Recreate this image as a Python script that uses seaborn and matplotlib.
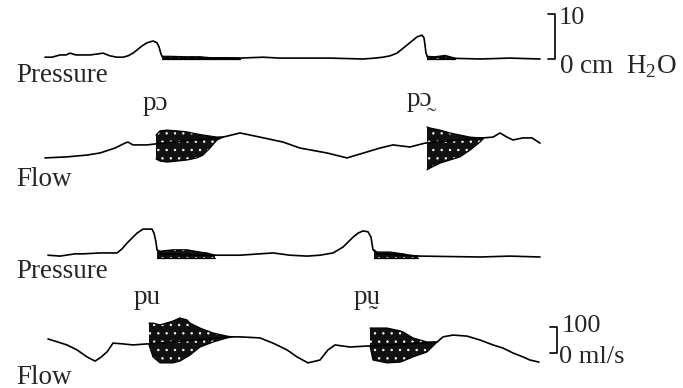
import numpy as np
import pandas as pd
import matplotlib
matplotlib.use("Agg")
import matplotlib.pyplot as plt
import seaborn as sns

sns.set_theme(style="white")
plt.rcParams['font.family'] = ['Liberation Serif', 'DejaVu Serif']
plt.rcParams['mathtext.fontset'] = 'custom'
plt.rcParams['mathtext.rm'] = 'Liberation Serif'
plt.rcParams['hatch.linewidth'] = 0.5

# --- traced values (time in samples, pressure in cm H2O, flow in ml/s) ---
p1_t = [45, 52, 60, 66, 70, 76, 83, 90, 97, 103, 110, 117, 123, 128, 133, 137, 142, 147, 153, 157,
        159, 161, 163, 200, 240, 263, 280, 307, 330, 363, 375, 383, 390, 397, 402, 407, 412, 417, 422, 424,
        425, 426, 428, 443, 445, 480, 510, 540]
p1 = [0.4, 0.4, 0.9, 0.9, 1.3, 0.9, 0.9, 0.9, 1.1, 1.3, 0.7, 0.4, 0.4, 0.7, 1.3, 2.0, 2.9, 3.6, 4.0, 3.6,
      2.7, 1.1, 0.2, 0.2, 0.2, 0.4, 0.2, 0.2, 0.2, 0.0, 0.2, 0.4, 0.7, 1.3, 2.2, 3.1, 4.0, 4.9, 5.3, 4.7,
      3.1, 1.3, 0.2, 0.4, 0.2, 0.0, 0.2, 0.0]

p2_t = [48, 60, 75, 83, 100, 117, 122, 127, 132, 137, 143, 150, 152, 154, 156, 157, 160, 200, 240, 273,
        290, 307, 320, 333, 343, 348, 353, 358, 363, 368, 371, 373, 377, 420, 480, 510, 540]
p2 = [0.4, 0.2, 0.7, 0.7, 0.9, 0.9, 1.8, 3.1, 4.2, 5.3, 6.2, 6.2, 6.2, 5.3, 3.3, 1.6, 0.7, 0.4, 0.4, 0.9,
      0.4, 0.2, 0.4, 0.9, 2.2, 3.3, 4.4, 5.3, 5.8, 5.6, 4.4, 1.6, 0.7, 0.2, 0.0, 0.2, 0.0]

# voicing ripple on the pressure traces (upper / lower envelope)
p1_rip_t = [[162, 170, 185, 200, 210, 225, 240], [427, 435, 445, 455]]
p1_rip_hi = [[0.6, 0.6, 0.5, 0.5, 0.3, 0.3, 0.2], [0.6, 0.5, 0.8, 0.2]]
p1_rip_lo = [[-0.1] * 7, [-0.1] * 4]
p2_rip_t = [[157, 160, 173, 187, 200, 207, 215], [374, 377, 390, 403, 410, 418]]
p2_rip_hi = [[1.6, 1.3, 1.6, 1.6, 1.1, 0.9, 0.4], [1.6, 1.1, 1.1, 0.7, 0.4, 0.2]]
p2_rip_lo = [[-0.3] * 7, [-0.3] * 6]

f1_t = [45, 67, 87, 100, 115, 125, 128, 133, 147, 156, 223, 240, 260, 283, 300, 327, 347, 367, 380, 393,
        410, 425, 483, 493, 500, 507, 513, 523, 532, 540]
f1 = [8, 12, 19, 27, 46, 65, 69, 58, 58, 62, 88, 104, 88, 69, 46, 27, 8, 31, 46, 58,
      50, 65, 85, 88, 104, 88, 77, 85, 85, 65]

f2_t = [48, 58, 67, 77, 87, 95, 100, 107, 113, 123, 133, 147, 150, 230, 240, 260, 273, 287, 297, 308,
        320, 328, 335, 350, 368, 370, 437, 443, 453, 467, 480, 493, 503, 513, 523, 530, 539]
f2 = [54, 42, 31, 12, -15, -31, -19, 4, 38, 35, 31, 35, 35, 62, 62, 58, 38, 12, -15, -38,
      -27, 12, 31, 23, 27, 27, 42, 62, 69, 65, 50, 31, 19, 0, -15, -27, -35]

# voiced portions of the flow traces (upper / lower envelope)
f1_voice_t = [[156, 160, 167, 177, 187, 197, 203, 210, 217, 223],
              [427, 430, 440, 450, 460, 470, 480, 484]]
f1_voice_hi = [[96, 112, 115, 112, 108, 100, 96, 92, 88, 88],
               [127, 123, 115, 104, 96, 88, 85, 85]]
f1_voice_lo = [[4, -4, -8, -4, 0, 8, 19, 46, 77, 88],
               [-38, -31, -12, 0, 12, 38, 69, 85]]
f2_voice_t = [[149, 153, 160, 173, 180, 187, 190, 200, 213, 227, 232],
              [370, 373, 387, 400, 403, 413, 427, 437]]
f2_voice_hi = [[115, 115, 108, 123, 135, 127, 115, 96, 77, 65, 62],
               [96, 96, 96, 85, 81, 58, 42, 42]]
f2_voice_lo = [[31, -15, -38, -38, -31, -15, -8, 23, 42, 58, 62],
               [27, -27, -38, -35, -31, -15, 4, 42]]

# channel placement on the page: (baseline, pixels per unit)
P1_BASE, F1_BASE, P2_BASE, F2_BASE = 59, 160, 257, 353
P_SCALE, F_SCALE = 4.5, 0.26

fig = plt.figure(figsize=(6.83, 3.88), dpi=100)
ax = fig.add_axes([0, 0, 1, 1])
ax.set_xlim(0, 683)
ax.set_ylim(388, 0)
ax.axis('off')


def trace(t, v, base, scale):
    df = pd.DataFrame({'t': t, 'y': base - np.asarray(v, float) * scale})
    sns.lineplot(data=df, x='t', y='y', ax=ax, color='black', lw=1.2,
                 estimator=None, sort=False)


def voiced(ts, his, los, base, scale):
    for t, hi, lo in zip(ts, his, los):
        top = base - np.asarray(hi, float) * scale
        bot = base - np.asarray(lo, float) * scale
        ax.fill_between(t, top, bot, facecolor='#111111', edgecolor='white',
                        hatch='..', linewidth=0)
        ax.plot(t, top, color='black', lw=0.9)
        ax.plot(t, bot, color='black', lw=0.9)


trace(p1_t, p1, P1_BASE, P_SCALE)
voiced(p1_rip_t, p1_rip_hi, p1_rip_lo, P1_BASE, P_SCALE)
trace(f1_t, f1, F1_BASE, F_SCALE)
voiced(f1_voice_t, f1_voice_hi, f1_voice_lo, F1_BASE, F_SCALE)
trace(p2_t, p2, P2_BASE, P_SCALE)
voiced(p2_rip_t, p2_rip_hi, p2_rip_lo, P2_BASE, P_SCALE)
trace(f2_t, f2, F2_BASE, F_SCALE)
voiced(f2_voice_t, f2_voice_hi, f2_voice_lo, F2_BASE, F_SCALE)

# calibration brackets: 10 cm H2O and 100 ml/s
for x, base, top in [(555, P1_BASE, P1_BASE - 10 * P_SCALE), (557, F2_BASE, F2_BASE - 100 * F_SCALE)]:
    ax.plot([x - 7, x, x, x - 7], [top, top, base, base], color='black', lw=1.2)

fs = 19.5
ax.text(16, 76, 'Pressure', fontsize=fs, va='center', ha='left')
ax.text(16, 180, 'Flow', fontsize=fs, va='center', ha='left')
ax.text(16, 272, 'Pressure', fontsize=fs, va='center', ha='left')
ax.text(16, 377, 'Flow', fontsize=fs, va='center', ha='left')
ax.text(143, 110, 'p\u0254', fontsize=fs, va='baseline', ha='left')
ax.text(407, 106, 'p\u0254\u0330', fontsize=fs, va='baseline', ha='left')
ax.text(134, 304, 'pu', fontsize=fs, va='baseline', ha='left')
ax.text(354, 304, 'p\u1e75', fontsize=fs, va='baseline', ha='left')
ax.text(559, 18, '10', fontsize=19, va='center', ha='left')
ax.text(559, 67, '0 cm  H$_2$O', fontsize=19.5, va='center', ha='left')
ax.text(562, 326, '100', fontsize=19, va='center', ha='left')
ax.text(559, 357, '0 ml/s', fontsize=19, va='center', ha='left')

fig.savefig('out.png', dpi=100, facecolor='white')
